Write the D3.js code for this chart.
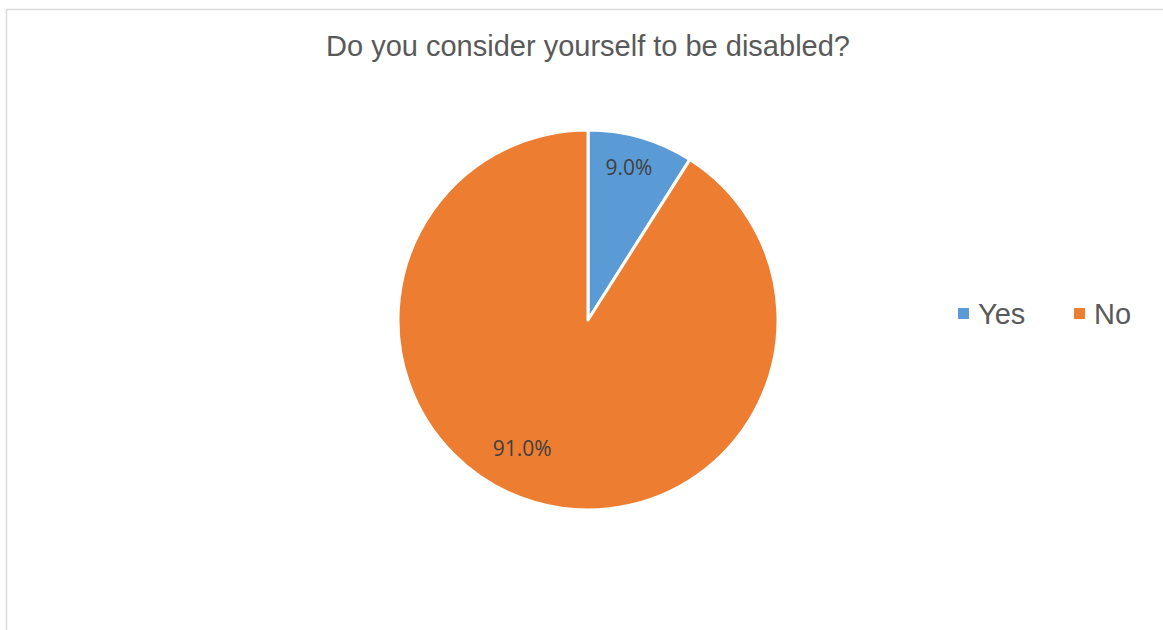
<!DOCTYPE html>
<html>
<head>
<meta charset="utf-8">
<script src="https://cdn.jsdelivr.net/npm/d3@7"></script>
<style>
  html, body { margin: 0; padding: 0; background: #fff; }
  svg { display: block; }
</style>
</head>
<body>
<svg id="chart" width="1163" height="630"></svg>
<script>
const title = "Do you consider yourself to be disabled?";
const categories = ["Yes", "No"];
const values = [9.0, 91.0];
const colors = ["#5B9BD5", "#ED7D31"];

const svg = d3.select("#chart");
const W = 1163, H = 630;

// chart border
svg.append("rect")
  .attr("x", 6.5).attr("y", 9.5)
  .attr("width", 1170).attr("height", 640)
  .attr("fill", "#fff")
  .attr("stroke", "#d9d9d9")
  .attr("stroke-width", 1.5);

// title
svg.append("text")
  .attr("x", 588).attr("y", 56)
  .attr("text-anchor", "middle")
  .attr("font-family", "'Liberation Sans', Arial, sans-serif")
  .attr("font-size", 29)
  .attr("fill", "#595959")
  .text(title);

const cx = 588, cy = 320, r = 190;
const data = categories.map((c, i) => ({ cat: c, value: values[i], color: colors[i] }));

const pie = d3.pie().value(d => d.value).sort(null);
const arcs = pie(data);
const arc = d3.arc().innerRadius(0).outerRadius(r);

const g = svg.append("g").attr("transform", `translate(${cx},${cy})`);

g.selectAll("path.slice")
  .data(arcs)
  .join("path")
  .attr("class", "slice")
  .attr("d", arc)
  .attr("fill", d => d.data.color)
  .attr("stroke", "#fff")
  .attr("stroke-width", 3)
  .attr("stroke-linejoin", "round");

// data labels (best-fit placement approximated)
const labelRadius = [0.83 * r, 0.76 * r];
const labelAngleShift = [-0.02, 0.19];
const fmt = d3.format(".1f");
g.selectAll("text.lbl")
  .data(arcs)
  .join("text")
  .attr("class", "lbl")
  .attr("transform", (d, i) => {
    const a = (d.startAngle + d.endAngle) / 2 + labelAngleShift[i];
    const lr = labelRadius[i];
    return `translate(${lr * Math.sin(a)},${-lr * Math.cos(a)})`;
  })
  .attr("text-anchor", "middle")
  .attr("dy", "0.36em")
  .attr("font-family", "'Open Sans', sans-serif")
  .attr("font-size", 21)
  .attr("fill", "#404040")
  .text(d => fmt(d.data.value) + "%");

// legend
const legendX = [958, 1074];
const legend = svg.append("g");
const items = legend.selectAll("g")
  .data(data)
  .join("g")
  .attr("transform", (d, i) => `translate(${legendX[i]},308)`);
items.append("rect")
  .attr("width", 11).attr("height", 11)
  .attr("fill", d => d.color);
items.append("text")
  .attr("x", 20).attr("y", 15.5)
  .attr("font-family", "'Liberation Sans', Arial, sans-serif")
  .attr("font-size", 29)
  .attr("fill", "#595959")
  .text(d => d.cat);
</script>
</body>
</html>
